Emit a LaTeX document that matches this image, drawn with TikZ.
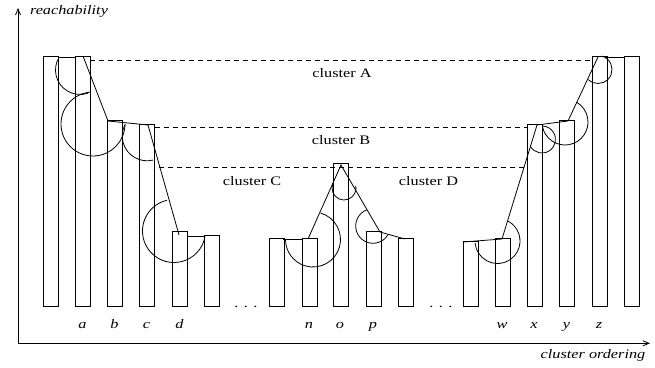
\documentclass[tikz,border=0pt]{standalone}
\usepackage{fontspec}
\setmainfont{Liberation Serif}
\usetikzlibrary{arrows.meta}
% Times-like text, widened a little
\newcommand\wide[1]{\scalebox{1.25}[1]{#1}}
% circular arc: centre x, centre y, radius, start angle, end angle
\newcommand\arcpiece[5]{\draw[curve] ([shift={(#4:#3pt)}]#1,#2) arc[start angle=#4,end angle=#5,radius=#3pt];}
\begin{document}
\begin{tikzpicture}[x=1pt,y=1pt,line width=0.8pt,
  bar/.style={draw,rectangle,inner sep=0pt,minimum width=14.5pt,anchor=south west},
  link/.style={line join=miter},
  curve/.style={},
  level/.style={dash pattern=on 5pt off 4pt},
  lab/.style={font=\fontsize{13}{15}\selectfont,inner sep=0pt,anchor=base},
  tick/.style={font=\fontsize{13}{15}\selectfont\itshape,inner sep=0pt,anchor=base},
  axis/.style={-{Straight Barb[length=6pt,width=5pt]}}]
\useasboundingbox (0,0) rectangle (655,367);

% axes
\coordinate (origin) at (18,23.7);
\coordinate (ytop) at (18,359);
\coordinate (xend) at (650,23.7);
\draw[axis] (origin) -- (ytop);
\draw[axis] (origin) -- (xend);
\node[tick] (ylab) at (69,352.5) {\wide{reachability}};
\node[tick] (xlab) at (593,9) {\wide{cluster ordering}};

% reachability bars
\node[bar,minimum height=250pt] (b1)  at (43,60) {};
\node[bar,minimum height=250pt] (b2)  at (75,60) {};
\node[bar,minimum height=186pt] (b3)  at (107,60) {};
\node[bar,minimum height=182pt] (b4)  at (139,60) {};
\node[bar,minimum height=75pt]  (b5)  at (172,60) {};
\node[bar,minimum height=71pt]  (b6)  at (204,60) {};
\node[bar,minimum height=68pt]  (b7)  at (269,60) {};
\node[bar,minimum height=68pt]  (b8)  at (302,60) {};
\node[bar,minimum height=143pt] (b9)  at (333,60) {};
\node[bar,minimum height=75pt]  (b10) at (366,60) {};
\node[bar,minimum height=68pt]  (b11) at (398,60) {};
\node[bar,minimum height=65pt]  (b12) at (463,60) {};
\node[bar,minimum height=68pt]  (b13) at (495,60) {};
\node[bar,minimum height=182pt] (b14) at (527,60) {};
\node[bar,minimum height=186pt] (b15) at (559,60) {};
\node[bar,minimum height=250pt] (b16) at (592,60) {};
\node[bar,minimum height=250pt] (b17) at (624,60) {};

% point labels
\node[tick] (la) at (82.5,39) {\wide{a}};
\node[tick] (lb) at (114.5,39) {\wide{b}};
\node[tick] (lc) at (146.5,39) {\wide{c}};
\node[tick] (ld) at (179.5,39) {\wide{d}};
\node[tick] (ln) at (309,39) {\wide{n}};
\node[tick] (lo) at (340,39) {\wide{o}};
\node[tick] (lp) at (373,39) {\wide{p}};
\node[tick] (lw) at (502,39) {\wide{w}};
\node[tick] (lx) at (534,39) {\wide{x}};
\node[tick] (ly) at (566.5,39) {\wide{y}};
\node[tick] (lz) at (599,39) {\wide{z}};
\node[lab] (dots1) at (246,60) {\wide{. . .}};
\node[lab] (dots2) at (441,60) {\wide{. . .}};

% cluster levels
\coordinate (lvA1) at (90,307);   \coordinate (lvA2) at (592,307);
\coordinate (lvB1) at (154.5,239.3); \coordinate (lvB2) at (527,239.3);
\coordinate (lvC1) at (159,199.7); \coordinate (lvC2) at (524,199.7);
\draw[level] (lvA1) -- (lvA2);
\draw[level] (lvB1) -- (lvB2);
\draw[level] (lvC1) -- (lvC2);
\node[lab] (cA) at (342,289) {\wide{cluster A}};
\node[lab] (cB) at (341,222) {\wide{cluster B}};
\node[lab] (cC) at (252,181) {\wide{cluster C}};
\node[lab] (cD) at (428.5,181) {\wide{cluster D}};

% predecessor links
\coordinate (p1) at (58,310);   \coordinate (p2) at (75,310);
\coordinate (pa) at (83,311);   \coordinate (pb) at (108,246);
\coordinate (pc) at (148,242);  \coordinate (pd) at (179,132);
\coordinate (pd2) at (187,131); \coordinate (p6) at (204,131);
\draw[link] (p1) -- (p2);
\draw[link] (pa) -- (pb) -- (pc) -- (pd);
\draw[link] (pd2) -- (p6);

\coordinate (p7) at (283,128);  \coordinate (p8) at (302,128);
\coordinate (pn) at (308,128);  \coordinate (po) at (341,202);
\coordinate (pp) at (380,135);  \coordinate (p11) at (405,128);
\draw[link] (p7) -- (p8);
\draw[link] (pn) -- (po) -- (pp) -- (p11);

\coordinate (p12) at (463,125); \coordinate (pw) at (502,128);
\coordinate (px) at (537,242);  \coordinate (py) at (568,246);
\coordinate (pz) at (598,310);
\coordinate (p16) at (606,310); \coordinate (p17) at (624,310);
\draw[link] (p12) -- (pw) -- (px) -- (py) -- (pz);
\draw[link] (p16) -- (p17);

% neighbourhood arcs
\arcpiece{80}{297}{24.5}{148}{289}
\arcpiece{93}{243}{32}{95}{358}
\arcpiece{147}{231}{24.8}{151}{284}
\arcpiece{174}{136}{31.5}{103}{350}
\arcpiece{344}{179}{12}{156}{370}
\arcpiece{313}{127.5}{27.5}{74}{-181}
\arcpiece{373}{141}{17.3}{111}{329}
\arcpiece{497.5}{126}{22.5}{62}{-175}
\arcpiece{542}{227.5}{13.5}{212}{446}
\arcpiece{565}{245}{23}{190}{420}
\arcpiece{598}{297.5}{14}{226}{433}
\end{tikzpicture}
\end{document}
